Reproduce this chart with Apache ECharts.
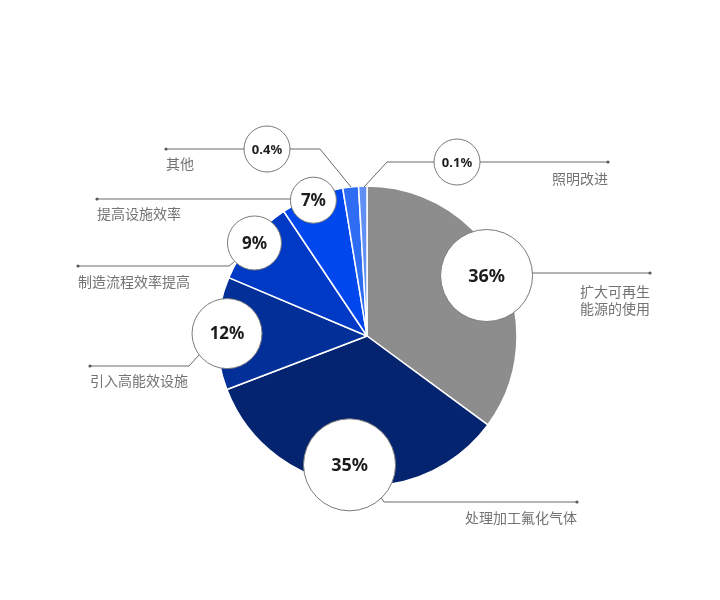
<!DOCTYPE html>
<html>
<head>
<meta charset="utf-8">
<script src="https://cdn.jsdelivr.net/npm/echarts@6/dist/echarts.min.js"></script>
<style>
  html, body { margin: 0; padding: 0; background: #fff; }
  #chart { width: 720px; height: 600px; }
</style>
</head>
<body>
<div id="chart"></div>
<script>
// categories, clockwise from 12 o'clock
var categories = ["扩大可再生\n能源的使用", "处理加工氟化气体", "引入高能效设施", "制造流程效率提高", "提高设施效率", "其他", "照明改进"];
// printed shares
var shareLabels = ["36%", "35%", "12%", "9%", "7%", "0.4%", "0.1%"];
// slice sizes as drawn (the two tiny ones are drawn wider than their labels)
var drawnShares = [35.2, 34.2, 12.2, 9.3, 6.8, 1.7, 0.9];
var sliceColors = ["#8d8d8d", "#05246f", "#032f98", "#0039c4", "#0048ee", "#2f6cf4", "#6190f5"];

// layout only
var CX = 367, CY = 336, R = 150;
var bubbles = [
    { dist: 134, r: 46, fs: 18 },
    { dist: 130, r: 46, fs: 18 },
    { dist: 140, r: 35, fs: 17 },
    { dist: 146, r: 27, fs: 17 },
    { dist: 146, r: 23, fs: 17 },
    { at: [267, 149], r: 23, fs: 13 },
    { at: [457, 162], r: 23, fs: 13 }
];
var leaders = [
    { lines: [[[532, 273], [650, 273]]], dot: [650, 273], text: [650, 300], align: "right" },
    { lines: [[[380, 496], [384, 502], [577, 502]]], dot: [577, 502], text: [577, 518], align: "right" },
    { lines: [[[199, 355], [189, 366], [90, 366]]], dot: [90, 366], text: [90, 381], align: "left" },
    { lines: [[[234, 262], [229, 266], [78, 266]]], dot: [78, 266], text: [78, 282], align: "left" },
    { lines: [[[290, 199], [97, 199]]], dot: [97, 199], text: [97, 214], align: "left" },
    { lines: [[[244, 149], [166, 149]], [[290, 149], [320, 149], [351, 187]]], dot: [166, 149], text: [166, 164], align: "left" },
    { lines: [[[434, 162], [387, 162], [364, 187]], [[480, 162], [608, 162]]], dot: [608, 162], text: [608, 179], align: "right" }
];

var chart = echarts.init(document.getElementById("chart"));

// bubble centres follow each slice's mid angle
var total = drawnShares.reduce(function (a, b) { return a + b; }, 0);
var acc = 0;
var graphics = [];
drawnShares.forEach(function (v, i) {
    var mid = (acc + v / 2) / total * Math.PI * 2;
    acc += v;
    var b = bubbles[i];
    var c = b.at || [CX + Math.sin(mid) * b.dist, CY - Math.cos(mid) * b.dist];
    var ld = leaders[i];
    ld.lines.forEach(function (pts) {
        graphics.push({
            type: "polyline", z: 10, silent: true,
            shape: { points: pts },
            style: { stroke: "#6a6a6a", lineWidth: 1, fill: null }
        });
    });
    graphics.push({
        type: "circle", z: 11, silent: true,
        shape: { cx: ld.dot[0], cy: ld.dot[1], r: 1.6 },
        style: { fill: "#5a5a5a" }
    });
    graphics.push({
        type: "text", z: 11, silent: true,
        x: ld.text[0], y: ld.text[1],
        style: {
            text: categories[i], fill: "#737373",
            font: "14px 'Noto Sans CJK SC', sans-serif",
            align: ld.align, verticalAlign: "middle", lineHeight: 17
        }
    });
    graphics.push({
        type: "circle", z: 20, silent: true,
        shape: { cx: c[0], cy: c[1], r: b.r },
        style: { fill: "#ffffff", stroke: "#7a7a7a", lineWidth: 1 }
    });
    graphics.push({
        type: "text", z: 21, silent: true,
        x: c[0], y: c[1] + 1,
        style: {
            text: shareLabels[i], fill: "#1c1c1c",
            font: "bold " + b.fs + "px 'Noto Sans', sans-serif",
            align: "center", verticalAlign: "middle"
        }
    });
});

chart.setOption({
    backgroundColor: "#ffffff",
    animation: false,
    series: [{
        type: "pie",
        center: [CX, CY],
        radius: [0, R],
        startAngle: 90,
        clockwise: true,
        label: { show: false },
        labelLine: { show: false },
        itemStyle: { borderColor: "#ffffff", borderWidth: 1.5 },
        data: drawnShares.map(function (v, i) {
            return { name: categories[i], value: v, itemStyle: { color: sliceColors[i] } };
        })
    }],
    graphic: graphics
});
</script>
</body>
</html>
